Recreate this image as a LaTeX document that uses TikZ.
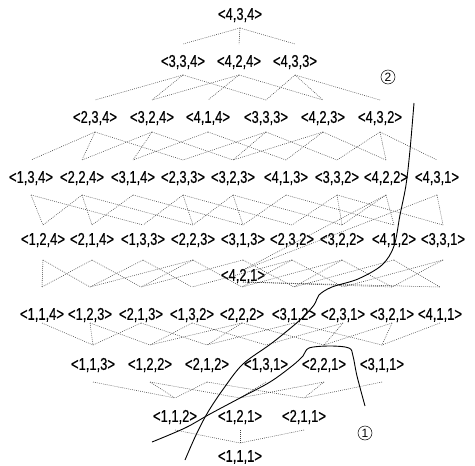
\documentclass[tikz,border=0pt]{standalone}
\usepackage{fontspec}
\setmainfont{Liberation Sans}
\newfontfamily\labfont[FakeStretch=0.76,FakeBold=0.4]{Liberation Sans}
\def\DU#1{\ifcase#1 0\or0\or0\or13\or17\or8\or20\or17\or14\or13\or13\fi}
\def\DL#1{\ifcase#1 0\or0\or0\or14\or19\or20\or28\or15\or18\or18\or18\fi}
\newcommand\edgeE[3]{%
 \ifnum#2=421 \def\tu{6}\else\edef\tu{\DU{#3}}\fi
 \ifnum#1=421 \def\tl{6}\else\edef\tl{\DL{#3}}\fi
 \draw[edge] ([yshift=-\tu pt]n#2.center) -- ([yshift=\tl pt]n#1.center);}
\begin{document}
\begin{tikzpicture}[x=1pt,y=-1pt]
\tikzset{
 lab/.style={inner sep=0pt, font=\labfont\fontsize{17}{17}\selectfont},
 edge/.style={draw=black!75, line width=0.55pt, dash pattern=on 0.8pt off 1.2pt},
 curve/.style={draw=black, line width=0.9pt},
 circ/.style={circle, draw, line width=0.5pt, inner sep=1pt, minimum size=14pt, font=\fontsize{12}{12}\selectfont}
}
\useasboundingbox (0,0) rectangle (475,466);
% row sum 11
\node[lab] (n434) at (240,15) {<4,3,4>};
% row sum 10
\node[lab] (n334) at (183,62) {<3,3,4>};
\node[lab] (n424) at (239,62) {<4,2,4>};
\node[lab] (n433) at (295,62) {<4,3,3>};
% row sum 9
\node[lab] (n234) at (95,118) {<2,3,4>};
\node[lab] (n324) at (152,118) {<3,2,4>};
\node[lab] (n414) at (208,118) {<4,1,4>};
\node[lab] (n333) at (266,118) {<3,3,3>};
\node[lab] (n423) at (323,118) {<4,2,3>};
\node[lab] (n432) at (380,118) {<4,3,2>};
% row sum 8
\node[lab] (n134) at (31,178) {<1,3,4>};
\node[lab] (n224) at (82,178) {<2,2,4>};
\node[lab] (n314) at (133,178) {<3,1,4>};
\node[lab] (n233) at (183,178) {<2,3,3>};
\node[lab] (n323) at (233,178) {<3,2,3>};
\node[lab] (n413) at (286,178) {<4,1,3>};
\node[lab] (n332) at (337,178) {<3,3,2>};
\node[lab] (n422) at (386,178) {<4,2,2>};
\node[lab] (n431) at (437,178) {<4,3,1>};
% row sum 7
\node[lab] (n124) at (43,240) {<1,2,4>};
\node[lab] (n214) at (92,240) {<2,1,4>};
\node[lab] (n133) at (143,240) {<1,3,3>};
\node[lab] (n223) at (193,240) {<2,2,3>};
\node[lab] (n313) at (243,240) {<3,1,3>};
\node[lab] (n232) at (292,240) {<2,3,2>};
\node[lab] (n322) at (342,240) {<3,2,2>};
\node[lab] (n412) at (394,240) {<4,1,2>};
\node[lab] (n331) at (443,240) {<3,3,1>};
\node[lab] (n421) at (243,276) {<4,2,1>};
% row sum 6
\node[lab] (n114) at (42,315) {<1,1,4>};
\node[lab] (n123) at (90,315) {<1,2,3>};
\node[lab] (n213) at (141,315) {<2,1,3>};
\node[lab] (n132) at (192,315) {<1,3,2>};
\node[lab] (n222) at (242,315) {<2,2,2>};
\node[lab] (n312) at (294,315) {<3,1,2>};
\node[lab] (n231) at (343,315) {<2,3,1>};
\node[lab] (n321) at (392,315) {<3,2,1>};
\node[lab] (n411) at (440,315) {<4,1,1>};
% row sum 5
\node[lab] (n113) at (93,365) {<1,1,3>};
\node[lab] (n122) at (150,365) {<1,2,2>};
\node[lab] (n212) at (207,365) {<2,1,2>};
\node[lab] (n131) at (266,365) {<1,3,1>};
\node[lab] (n221) at (324,365) {<2,2,1>};
\node[lab] (n311) at (382,365) {<3,1,1>};
% row sum 4
\node[lab] (n112) at (175,417) {<1,1,2>};
\node[lab] (n121) at (240,417) {<1,2,1>};
\node[lab] (n211) at (304,417) {<2,1,1>};
% row sum 3
\node[lab] (n111) at (240,457) {<1,1,1>};
% covering edges
\foreach \a in {1,...,4}{\foreach \b in {1,2,3}{\foreach \c in {1,...,4}{
  \pgfmathtruncatemacro\ap{\a+1}
  \pgfmathtruncatemacro\bp{\b+1}
  \pgfmathtruncatemacro\cp{\c+1}
  \pgfmathtruncatemacro\s{\a+\b+\c}
  \ifnum\a<4 \edgeE{\a\b\c}{\ap\b\c}{\s}\fi
  \ifnum\b<3 \edgeE{\a\b\c}{\a\bp\c}{\s}\fi
  \ifnum\c<4 \edgeE{\a\b\c}{\a\b\cp}{\s}\fi
}}}
% curves
\draw[curve] plot[smooth, tension=0.55] coordinates {(414,103) (410,150) (406,185) (400,215) (394,246) (382,265) (358,279) (332,287) (319,295) (314,305) (300,320) (272,343) (243,364) (224,388) (208,412) (196,435) (185,460)};
\draw[curve] plot[smooth, tension=0.55] coordinates {(152,442) (185,428) (210,414) (240,398) (270,382) (292,366) (303,356) (309,348) (330,346) (349,348) (353,356) (357,376) (365,406)};
\node[circ] (c2) at (388,77) {2};
\node[circ] (c1) at (365,433) {1};
\end{tikzpicture}
\end{document}
